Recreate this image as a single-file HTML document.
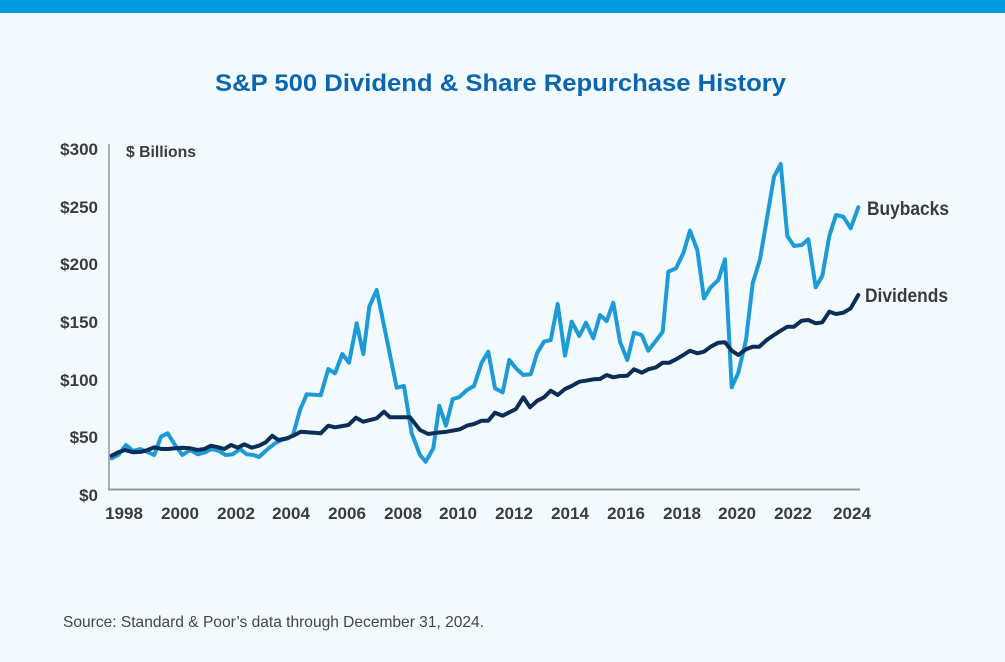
<!DOCTYPE html>
<html>
<head>
<meta charset="utf-8">
<style>
html,body{margin:0;padding:0;background:#f2fafd;}
svg{display:block;}
text{font-family:"Liberation Sans",sans-serif;}
</style>
</head>
<body>
<svg width="1005" height="662" viewBox="0 0 1005 662" xmlns="http://www.w3.org/2000/svg">
<rect x="0" y="0" width="1005" height="662" fill="#f2fafd"/>
<rect x="0" y="0" width="1005" height="13" fill="#009bde"/>

<text x="215" y="91" font-size="24" font-weight="bold" fill="#0b66b2" textLength="571" lengthAdjust="spacingAndGlyphs">S&amp;P 500 Dividend &amp; Share Repurchase History</text>

<!-- axes -->
<line x1="109" y1="144" x2="109" y2="490" stroke="#9a9a9a" stroke-width="1.6"/>
<line x1="108.2" y1="489.5" x2="860" y2="489.5" stroke="#9a9a9a" stroke-width="2"/>

<g font-size="17" font-weight="bold" fill="#3b3b3b" text-anchor="end">
<text x="98" y="155">$300</text>
<text x="98" y="213">$250</text>
<text x="98" y="270">$200</text>
<text x="98" y="328">$150</text>
<text x="98" y="386">$100</text>
<text x="98" y="443">$50</text>
<text x="98" y="501">$0</text>
</g>

<text x="126" y="157" font-size="16" font-weight="bold" fill="#3b3b3b" textLength="70" lengthAdjust="spacingAndGlyphs">$ Billions</text>

<g font-size="17" font-weight="bold" fill="#3b3b3b" text-anchor="middle">
<text x="124" y="519">1998</text>
<text x="180" y="519">2000</text>
<text x="236" y="519">2002</text>
<text x="291" y="519">2004</text>
<text x="347" y="519">2006</text>
<text x="403" y="519">2008</text>
<text x="458" y="519">2010</text>
<text x="514" y="519">2012</text>
<text x="570" y="519">2014</text>
<text x="626" y="519">2016</text>
<text x="682" y="519">2018</text>
<text x="737" y="519">2020</text>
<text x="793" y="519">2022</text>
<text x="852" y="519">2024</text>
</g>

<!-- Buybacks -->
<polyline fill="none" stroke="#1e9bd7" stroke-width="4" stroke-linejoin="round" stroke-linecap="round" points="
111.7,458.3 118.3,455 126,445 133.3,451 140,449 146.7,451.7 154.3,455 161,436.7 167.7,433.3 175,445 182.3,455 190,450 197.7,454.3 205,452.3 211.7,449 219,451 225.7,455 232.7,454.3 240,449 246.7,454.3 253.3,455 259,457 266.7,450 275,443.3 281.7,440 288.3,438.3 293,435 300,410 306.7,394.3 320.7,395.3 328.3,369 335,373.3 342.3,354 349,362.7 356.7,323.3 363.3,354 369.3,306.7 376.7,290 396.7,387.7 404,386 411.7,433.3 420,455 425.7,461.7 433.3,448.3 439.3,405.7 446,425.7 452.7,399 459,397.3 467,390 474,386 481.7,362.7 488.3,351.7 495,388.3 502.7,392.3 509.3,360 516,368.3 523.3,375 530.7,374.3 537.3,352.7 544,341.7 550.7,340 557.7,304 565,355.7 571.7,321.7 579.3,336 586,322.7 593.3,338.3 600,315 606.7,321 613.3,302.7 620,341.7 627.3,360 634,332.7 641.7,335 648.3,350.7 656,340.7 662.7,331.7 668.3,271.7 676,268.3 683.3,253.3 690,230.7 697.3,250 704,298.3 710.7,287.3 718.3,280 725,259.3 731.7,387.3 738.3,372.7 746,340 752.7,283.3 760,259.3 766.7,220 774,176.7 780.7,164 787.3,236 794,246 801.7,245 808.3,239.3 815.7,287.3 822.3,276 829.3,236 836,215 843.3,216.7 850.7,228.3 858.3,207.3"/>

<!-- Dividends -->
<polyline fill="none" stroke="#0b2d57" stroke-width="4" stroke-linejoin="round" stroke-linecap="round" points="
111.7,455.7 118.3,452.3 125,450 133.3,452.3 141.7,451.7 147.7,450 154.3,447.3 161.7,449 168.3,449 175,448.3 182.3,447.7 190,448.3 197.7,450 204.3,449 211,445.7 218.3,447.3 224.3,449 231,445 237.7,447.7 244.3,444.3 251.7,447.7 259,445.7 265.7,442.3 272.3,435.7 278.3,440 286.7,438.3 293.3,435.7 300.7,431.7 320.7,433.3 328.3,425.7 335,427.3 348.3,425 356,417.7 363.3,421.7 376.7,418.3 384,411.7 390,417.3 410,417.3 420,430 428.3,434 436.7,432.7 446.7,431.7 460,429.3 466.7,425.7 474,424 481.7,420.7 488.3,420.7 495,412.7 502.7,415.7 509.3,412.3 516,409 523.3,397.3 530,407.3 537.3,400.7 544,397.3 550.7,390.7 557.7,395 565,389 571.7,386 579.3,381.7 586,380.7 593.3,379.3 600,379 606.7,375 613.3,377.3 620,376 627.3,375.7 634,369.3 641.7,372.7 648.3,369.3 656,367.3 662.7,362.7 669.3,362.7 676,359.3 683.3,355 690,350.7 697.3,353.3 704,351.7 710.7,346.7 718.3,342.7 725,342.3 731.7,350.7 738.3,355 746,349.3 752.7,346.7 759.3,346.7 766.7,340 774,335 780.7,330.7 787.3,326.7 794,326.7 801.7,320.7 808.3,320 815.7,323.3 822.3,322.3 829.3,311.7 836,314 843.3,312.7 850.7,308.3 858.3,295"/>

<text x="867" y="215" font-size="19" font-weight="bold" fill="#3b3b3b" textLength="82" lengthAdjust="spacingAndGlyphs">Buybacks</text>
<text x="865" y="302" font-size="19" font-weight="bold" fill="#3b3b3b" textLength="83" lengthAdjust="spacingAndGlyphs">Dividends</text>

<text x="63" y="627" font-size="16" fill="#444444" textLength="421" lengthAdjust="spacingAndGlyphs">Source: Standard &amp; Poor’s data through December 31, 2024.</text>
</svg>
</body>
</html>
